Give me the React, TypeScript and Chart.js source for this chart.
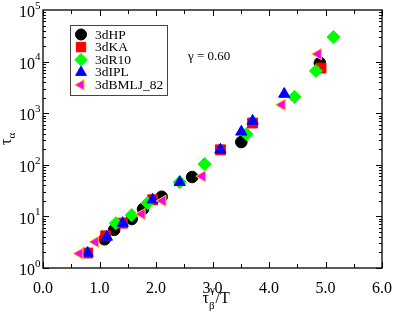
import React, { useEffect, useRef } from "react";
import { Chart, registerables } from "chart.js";

Chart.register(...registerables);

const seriesNames = ["3dHP", "3dKA", "3dR10", "3dIPL", "3dBMLJ_82"];

const hpX = [1.09, 1.26, 1.57, 1.77, 2.1, 2.64, 3.51, 4.9];
const hpY = [3.6, 5.5, 8.9, 13.9, 24, 58, 276, 9400];

const kaX = [0.79, 1.11, 1.41, 1.94, 3.14, 3.71, 4.92];
const kaY = [1.95, 4.2, 7.4, 21, 195, 645, 7500];

const r10X = [1.29, 1.57, 1.85, 2.42, 2.86, 3.6, 4.45, 4.83, 5.14];
const r10Y = [7.4, 10.6, 18.2, 46, 104, 395, 2060, 6600, 30000];

const iplX = [0.79, 1.13, 1.41, 1.94, 2.42, 3.14, 3.51, 3.71, 4.27];
const iplY = [1.95, 4.0, 7.4, 21, 46, 195, 435, 705, 2350];

const bmljX = [0.65, 0.93, 1.75, 2.12, 2.82, 4.23, 4.87];
const bmljY = [1.9, 3.2, 11.1, 20, 60, 1450, 14000];

const xTicks = [0, 1, 2, 3, 4, 5, 6];
const yDecades = [0, 1, 2, 3, 4, 5];
const gammaText = "γ = 0.60";

const FONT = '"Liberation Serif", "Times New Roman", serif';

const toPts = (xs: number[], ys: number[]) => xs.map((x, i) => ({ x, y: ys[i] }));

type Sty = { fill: string; stroke: string; shape: string; r: number; rot: number };
const styles: Sty[] = [
  { fill: "#000000", stroke: "#000000", shape: "circle", r: 5.8, rot: 0 },
  { fill: "#ff0000", stroke: "#ff0000", shape: "rect", r: 7, rot: 0 },
  { fill: "#00ff00", stroke: "#00ff00", shape: "rectRot", r: 6.5, rot: 0 },
  { fill: "#0000ff", stroke: "#0000ff", shape: "triangle", r: 6.5, rot: 0 },
  { fill: "#ff00ff", stroke: "#ffd700", shape: "triangle", r: 6.5, rot: -90 },
];

function drawMarker(ctx: CanvasRenderingContext2D, s: Sty, x: number, y: number) {
  ctx.save();
  ctx.translate(x, y);
  ctx.rotate((s.rot * Math.PI) / 180);
  ctx.beginPath();
  const r = s.r;
  if (s.shape === "circle") ctx.arc(0, 0, r, 0, Math.PI * 2);
  else if (s.shape === "rect") {
    const h = r * Math.SQRT1_2;
    ctx.rect(-h, -h, 2 * h, 2 * h);
  } else if (s.shape === "rectRot") {
    ctx.moveTo(0, -r); ctx.lineTo(r, 0); ctx.lineTo(0, r); ctx.lineTo(-r, 0); ctx.closePath();
  } else {
    ctx.moveTo(0, -r);
    ctx.lineTo(r * Math.sin(Math.PI / 3), r * 0.5);
    ctx.lineTo(-r * Math.sin(Math.PI / 3), r * 0.5);
    ctx.closePath();
  }
  ctx.fillStyle = s.fill;
  ctx.fill();
  ctx.strokeStyle = s.stroke;
  ctx.lineWidth = 1;
  ctx.stroke();
  ctx.restore();
}

const decorPlugin = {
  id: "decor",
  afterDraw(chart: any) {
    const ctx: CanvasRenderingContext2D = chart.ctx;
    const { left, right, top, bottom } = chart.chartArea;
    const xs = chart.scales.x;
    const ys = chart.scales.y;
    ctx.save();
    ctx.strokeStyle = "#000";
    ctx.lineWidth = 1.3;
    ctx.strokeRect(left, top, right - left, bottom - top);
    ctx.lineWidth = 1;
    ctx.beginPath();
    for (let v = 0; v <= 6.0001; v += 0.5) {
      const px = Math.round(xs.getPixelForValue(v)) + 0.5;
      const len = Math.abs(v - Math.round(v)) < 1e-6 ? 6 : 4;
      ctx.moveTo(px, bottom); ctx.lineTo(px, bottom - len);
      ctx.moveTo(px, top); ctx.lineTo(px, top + len);
    }
    for (let d = 0; d < 5; d++) {
      for (let m = 1; m <= 9; m++) {
        const val = m * Math.pow(10, d);
        const py = Math.round(ys.getPixelForValue(val)) + 0.5;
        const len = m === 1 ? 6 : 3;
        ctx.moveTo(left, py); ctx.lineTo(left + len, py);
        ctx.moveTo(right, py); ctx.lineTo(right - len, py);
      }
    }
    ctx.stroke();

    ctx.fillStyle = "#000";
    ctx.textBaseline = "middle";
    for (const d of yDecades) {
      const py = ys.getPixelForValue(Math.pow(10, d));
      ctx.font = `16px ${FONT}`;
      ctx.textAlign = "right";
      ctx.fillText("10", left - 8, py + 3);
      ctx.font = `11px ${FONT}`;
      ctx.textAlign = "left";
      ctx.fillText(String(d), left - 8, py - 4);
    }

    const cx = (left + right) / 2 - 10;
    const ty = 299;
    ctx.textAlign = "left";
    ctx.textBaseline = "alphabetic";
    ctx.font = `16px ${FONT}`;
    ctx.fillText("τ", cx, ty + 4);
    const tw = ctx.measureText("τ").width;
    ctx.font = `11px ${FONT}`;
    ctx.fillText("β", cx + tw, ty + 10);
    ctx.fillText("γ", cx + tw + 1, ty - 6);
    const bw = ctx.measureText("β").width;
    ctx.font = `16px ${FONT}`;
    ctx.fillText("/T", cx + tw + bw + 1, ty + 4);

    ctx.save();
    ctx.translate(8, 141);
    ctx.rotate(-Math.PI / 2);
    ctx.font = `16px ${FONT}`;
    ctx.textBaseline = "middle";
    ctx.fillText("τ", -4, -1);
    const tw2 = ctx.measureText("τ").width;
    ctx.font = `11px ${FONT}`;
    ctx.fillText("α", -4 + tw2, 4);
    ctx.restore();

    ctx.font = `13px ${FONT}`;
    ctx.textBaseline = "middle";
    ctx.fillText(gammaText, 188, 57);

    const lx = 70, ly = 25, lw = 97, lh = 70;
    ctx.fillStyle = "#fff";
    ctx.fillRect(lx, ly, lw, lh);
    ctx.strokeStyle = "#444";
    ctx.lineWidth = 1;
    ctx.strokeRect(lx + 0.5, ly + 0.5, lw, lh);
    ctx.font = `13.5px ${FONT}`;
    ctx.textBaseline = "middle";
    seriesNames.forEach((name, i) => {
      const yy = ly + 9.5 + i * 12.6;
      drawMarker(ctx, { ...styles[i], r: styles[i].r * 0.95 }, 81, yy);
      ctx.fillStyle = "#000";
      ctx.fillText(name, 95, yy + 0.5);
    });
    ctx.restore();
  },
};

export default function App() {
  const ref = useRef<HTMLCanvasElement | null>(null);
  useEffect(() => {
    if (!ref.current) return;
    const series = [toPts(hpX, hpY), toPts(kaX, kaY), toPts(r10X, r10Y), toPts(iplX, iplY), toPts(bmljX, bmljY)];
    const chart = new Chart(ref.current, {
      type: "scatter",
      data: {
        datasets: series.map((d, i) => ({
          label: seriesNames[i],
          data: d,
          order: 5 - i,
          pointStyle: styles[i].shape as any,
          pointRadius: styles[i].r,
          pointRotation: styles[i].rot,
          backgroundColor: styles[i].fill,
          borderColor: styles[i].stroke,
          borderWidth: 1,
          pointHoverRadius: styles[i].r,
        })),
      },
      options: {
        animation: false,
        responsive: false,
        maintainAspectRatio: false,
        layout: { padding: { left: 0, right: 12, top: 10, bottom: 0 } },
        plugins: { legend: { display: false }, tooltip: { enabled: false } },
        scales: {
          x: {
            type: "linear",
            min: 0,
            max: 6,
            grid: { display: false },
            border: { display: false },
            afterBuildTicks: (s: any) => {
              s.ticks = xTicks.map((v) => ({ value: v }));
            },
            ticks: {
              color: "#000",
              font: { family: FONT, size: 16 },
              padding: 3,
              maxRotation: 0,
              callback: (v: any) => Number(v).toFixed(1),
            },
            afterFit: (s: any) => {
              s.height = 44;
            },
          },
          y: {
            type: "logarithmic",
            min: 1,
            max: 100000,
            grid: { display: false },
            border: { display: false },
            ticks: { display: false },
            afterFit: (s: any) => {
              s.width = 43;
            },
          },
        },
      },
      plugins: [decorPlugin],
    });
    return () => chart.destroy();
  }, []);
  return (
    <div style={{ position: "absolute", left: 0, top: 0, width: 395, height: 312, background: "#fff" }}>
      <canvas ref={ref} width={395} height={312} style={{ width: 395, height: 312 }} />
    </div>
  );
}
